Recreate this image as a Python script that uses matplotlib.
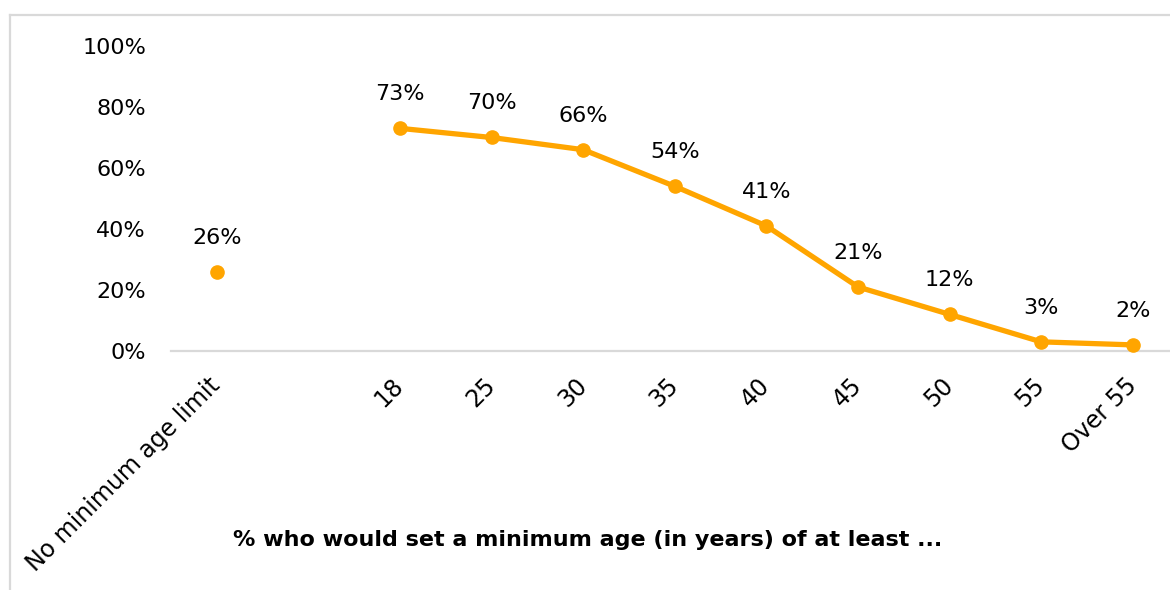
import matplotlib
matplotlib.use("Agg")
import matplotlib.pyplot as plt
from matplotlib.lines import Line2D

# Survey responses: share who would set a minimum age of at least ...
no_limit_label = "No minimum age limit"
no_limit_value = 26
age_labels = ["18", "25", "30", "35", "40", "45", "50", "55", "Over 55"]
age_values = [73, 70, 66, 54, 41, 21, 12, 3, 2]
y_ticks = [0, 20, 40, 60, 80, 100]
x_title = "% who would set a minimum age (in years) of at least ..."

ORANGE = "#FFA500"
GRID = "#D9D9D9"
TEXT = "#000000"

W, H, DPI = 1170, 590, 100
fig = plt.figure(figsize=(W / DPI, H / DPI), dpi=DPI)
fig.patch.set_facecolor("white")

# Category slots: "No minimum" first, then one empty slot, then the ages
slot_no_limit = 0
age_slots = list(range(2, 2 + len(age_labels)))

left_px, right_px = 171, 1170
top_px, bottom_px = 46, 351
ax = fig.add_axes([left_px / W, 1 - bottom_px / H,
                   (right_px - left_px) / W, (bottom_px - top_px) / H])
slot_w = 91.6
x_hi = -0.5 + (right_px - left_px) / slot_w
ax.set_xlim(-0.5, x_hi)
ax.set_ylim(0, 100)

for s in ["top", "right", "left", "bottom"]:
    ax.spines[s].set_visible(False)
ax.axhline(0, color=GRID, lw=1.6, zorder=1, clip_on=False)

# Separate point for "no minimum", connected line for the ages
ax.plot([slot_no_limit], [no_limit_value], "o", color=ORANGE, ms=9.5,
        zorder=3, clip_on=False)
ax.plot(age_slots, age_values, "-o", color=ORANGE, lw=3.8, ms=9.5,
        zorder=3, clip_on=False, solid_capstyle="round")

# Value labels above each point
for x, v in [(slot_no_limit, no_limit_value)] + list(zip(age_slots, age_values)):
    ax.annotate(f"{v}%", (x, v), xytext=(0, 24.5), textcoords="offset points",
                ha="center", va="center", fontsize=16, color=TEXT)

ax.set_yticks(y_ticks)
ax.set_yticklabels([f"{t}%" for t in y_ticks])
ax.tick_params(axis="y", length=0, pad=18, labelsize=16, labelcolor=TEXT)

ax.set_xticks([slot_no_limit] + age_slots)
ax.set_xticklabels([no_limit_label] + age_labels, rotation=45,
                   ha="right", va="center", rotation_mode="anchor")
ax.tick_params(axis="x", length=0, pad=22, labelsize=17, labelcolor=TEXT)

fig.text(588 / W, 1 - 540 / H, x_title, ha="center", va="center",
         fontsize=16, fontweight="bold", color=TEXT)

# Chart frame (top and left edges)
fig.add_artist(Line2D([10 / W, 1.0], [1 - 15 / H, 1 - 15 / H],
                      color=GRID, lw=1.6, transform=fig.transFigure))
fig.add_artist(Line2D([10 / W, 10 / W], [1 - 15 / H, 0.0],
                      color=GRID, lw=1.6, transform=fig.transFigure))

fig.savefig("out.png", dpi=DPI, facecolor="white")
